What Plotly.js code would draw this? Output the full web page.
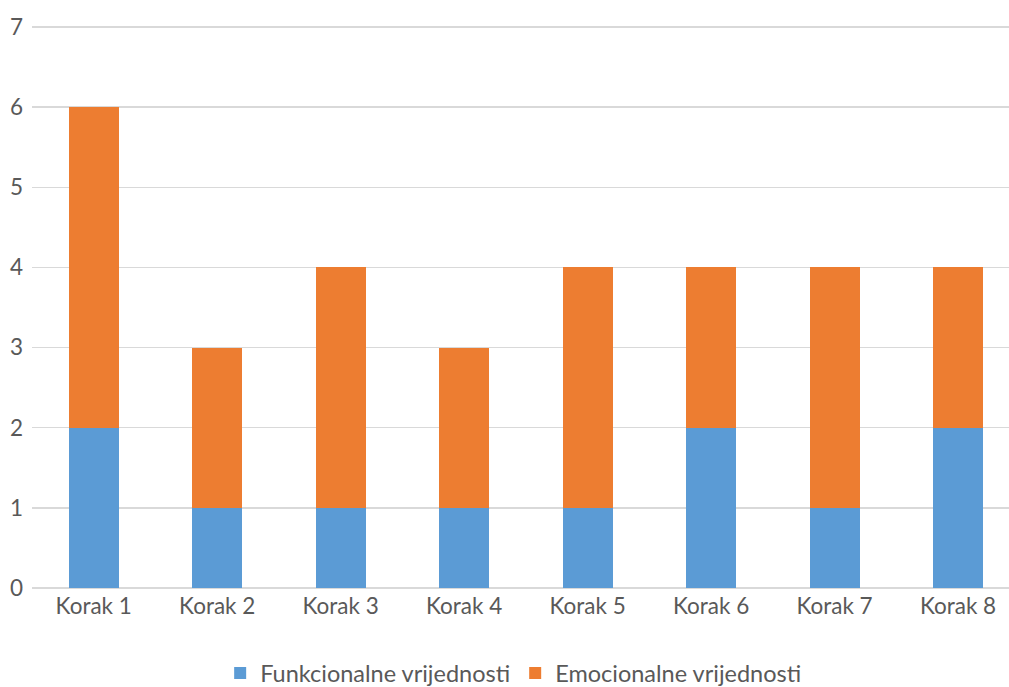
<!DOCTYPE html>
<html><head><meta charset="utf-8">
<script src="https://cdn.plot.ly/plotly-3.0.1.min.js"></script>
<style>html,body{margin:0;padding:0;background:#fff}</style>
</head><body><div id="chart" style="width:1009px;height:687px"></div>
<script>
const categories = ["Korak 1","Korak 2","Korak 3","Korak 4","Korak 5","Korak 6","Korak 7","Korak 8"];
const funkcionalne = [2,1,1,1,1,2,1,2];
const emocionalne = [4,2,3,2,3,2,3,2];
const seriesNames = ["Funkcionalne vrijednosti","Emocionalne vrijednosti"];
const yTicks = [0,1,2,3,4,5,6,7];
const font = "Lato, 'Open Sans', sans-serif";
const data = [
  {type:"bar", x:categories, y:funkcionalne, name:seriesNames[0], marker:{color:"#5B9BD5"}, hoverinfo:"none"},
  {type:"bar", x:categories, y:emocionalne, name:seriesNames[1], marker:{color:"#ED7D31"}, hoverinfo:"none"}
];
const layout = {
  width:1009, height:687, barmode:"stack", bargap:0.595,
  margin:{l:32, r:0, t:23, b:99, autoexpand:false},
  paper_bgcolor:"#fff", plot_bgcolor:"#fff",
  font:{family:font, size:22, color:"#595959"},
  xaxis:{type:"category", range:[-0.5, 7.413], showgrid:false, zeroline:false, showline:false, ticks:"", tickfont:{size:22.5, color:"#595959"}, ticklabelstandoff:2, automargin:false},
  yaxis:{range:[0,7.05], tickvals:yTicks, showgrid:true, gridcolor:"#d9d9d9", gridwidth:1.5, zeroline:true, zerolinecolor:"#d9d9d9", zerolinewidth:1.5, showline:false, ticks:"", tickfont:{size:22.5, color:"#595959"}, ticklabelstandoff:8, automargin:false},
  showlegend:true,
  legend:{orientation:"h", x:0.493, xanchor:"center", y:-0.112, yanchor:"top", font:{size:23.5, color:"#595959"}, itemwidth:30, traceorder:"normal"}
};
Plotly.newPlot("chart", data, layout, {displayModeBar:false, staticPlot:true});
</script></body></html>
